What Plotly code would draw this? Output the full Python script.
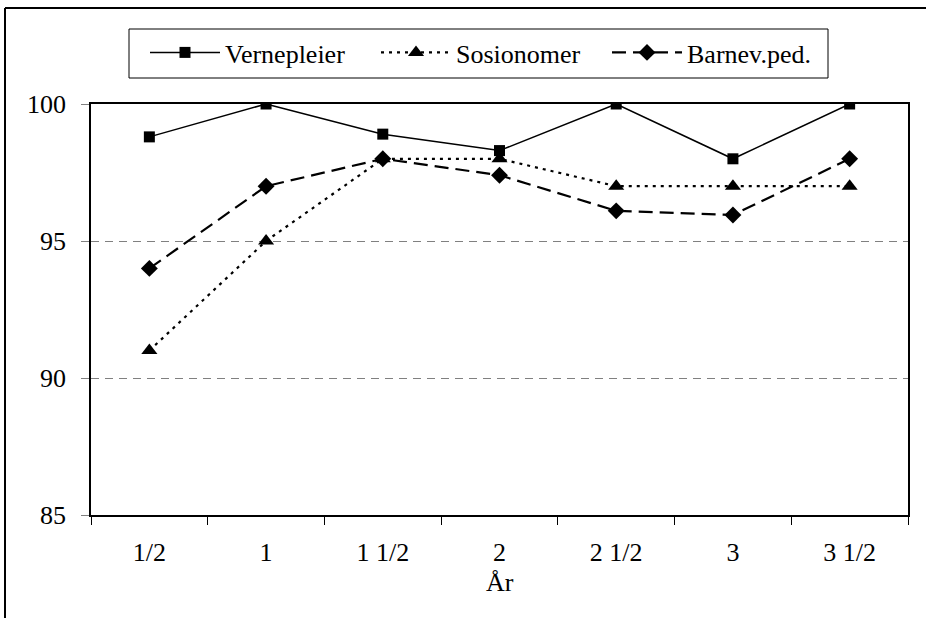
import plotly.graph_objects as go

categories = ["1/2", "1", "1 1/2", "2", "2 1/2", "3", "3 1/2"]
vernepleier = [98.8, 100, 98.9, 98.3, 100, 98.0, 100]
sosionomer = [91.0, 95.0, 98.0, 98.0, 97.0, 97.0, 97.0]
barnevped = [94.0, 97.0, 98.0, 97.4, 96.1, 95.95, 98.0]
y_ticks = [85, 90, 95, 100]

FONT = "Liberation Serif"
FS = 26
PW, PH, L, B = 817, 411, 91, 515


def px(x):
    return (x - L) / PW


def py(y):
    return (B - y) / PH


fig = go.Figure()
fig.add_trace(go.Scatter(x=categories, y=vernepleier, name="Vernepleier", mode="lines+markers",
                         line=dict(color="black", width=1.5),
                         marker=dict(symbol="square", size=11, color="black")))
fig.add_trace(go.Scatter(x=categories, y=sosionomer, name="Sosionomer", mode="lines+markers",
                         line=dict(color="black", width=2.2, dash="3px,5px"),
                         marker=dict(symbol="triangle-up", size=14, color="black")))
fig.add_trace(go.Scatter(x=categories, y=barnevped, name="Barnev.ped.", mode="lines+markers",
                         line=dict(color="black", width=2.2, dash="14px,7px"),
                         marker=dict(symbol="diamond", size=13, color="black")))

fig.update_layout(
    width=926, height=618,
    margin=dict(l=91, r=18, t=104, b=103, pad=0),
    paper_bgcolor="white", plot_bgcolor="white",
    font=dict(family=FONT, size=FS, color="black"),
    showlegend=True,
    legend=dict(orientation="h", x=px(145), y=py(29), xanchor="left", yanchor="top",
                borderwidth=0, bgcolor="rgba(0,0,0,0)",
                itemwidth=70, entrywidth=146, font=dict(family=FONT, size=FS)),
    xaxis=dict(type="category", range=[-0.5, 6.5], showgrid=False, zeroline=False,
               showline=True, linecolor="black", linewidth=2, mirror=True,
               ticks="outside", ticklen=8, tickcolor="black", tickson="boundaries",
               ticklabelstandoff=13, tickfont=dict(family=FONT, size=FS)),
    yaxis=dict(range=[85, 100], tickvals=y_ticks, showgrid=True, gridcolor="#808080",
               griddash="8px,6px", gridwidth=1, zeroline=False,
               showline=True, linecolor="black", linewidth=1.5, mirror=True,
               ticks="outside", ticklen=8, tickcolor="#808080",
               ticklabelstandoff=10, tickfont=dict(family=FONT, size=FS)),
    annotations=[dict(text="År", xref="paper", yref="paper", x=0.5, y=py(582),
                      xanchor="center", yanchor="middle", showarrow=False,
                      font=dict(family=FONT, size=FS))],
    shapes=[
        dict(type="line", xref="paper", yref="paper", x0=px(5), x1=px(926),
             y0=py(8), y1=py(8), line=dict(color="black", width=2)),
        dict(type="line", xref="paper", yref="paper", x0=px(5), x1=px(5),
             y0=py(8), y1=py(618), line=dict(color="black", width=2)),
        dict(type="rect", xref="paper", yref="paper", x0=px(129), x1=px(828),
             y0=py(29), y1=py(78), line=dict(color="black", width=1)),
    ],
)
fig.write_html("out.html")
